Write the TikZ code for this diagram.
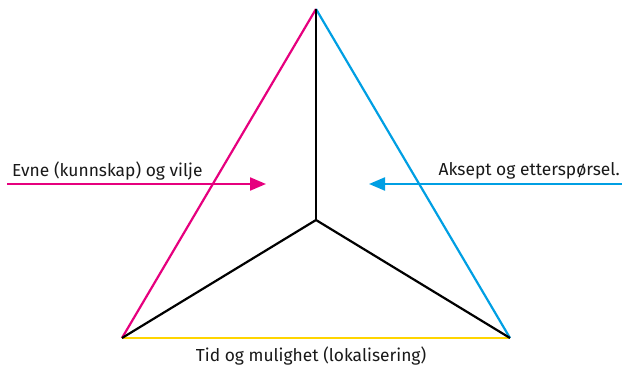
\documentclass[tikz,border=0pt]{standalone}
\usepackage{fontspec}
\setmainfont{Fira Sans}
\usetikzlibrary{arrows.meta}
\definecolor{mpink}{HTML}{E6007E}
\definecolor{mblue}{HTML}{009FE3}
\definecolor{myellow}{HTML}{FFD500}
\begin{document}
\begin{tikzpicture}[x=1pt,y=-1pt,
  edge/.style={line width=2.2pt},
  arr/.style={line width=2.2pt,-{Triangle[length=16pt,width=13pt]}},
  lbl/.style={inner sep=0pt,font=\fontsize{17.4}{20}\selectfont,text=black!90}]
\useasboundingbox (0,0) rectangle (622,368);
\coordinate (T) at (316,9);
\coordinate (C) at (316,220);
\coordinate (L) at (122,338);
\coordinate (R) at (510,338);
\coordinate (pa) at (7,184);
\coordinate (pb) at (266,184);
\coordinate (ba) at (622,184);
\coordinate (bb) at (369,184);
\draw[edge,myellow] (L) -- (R);
\draw[edge,mpink] (T) -- (L);
\draw[edge,mblue] (T) -- (R);
\draw[edge,black] (C) -- (T);
\draw[edge,black] (C) -- (L);
\draw[edge,black] (C) -- (R);
\draw[arr,mpink] (pa) -- (pb);
\draw[arr,mblue] (ba) -- (bb);
\node[lbl,anchor=west] (t1) at (12,171) {Evne (kunnskap) og vilje};
\node[lbl,anchor=east] (t2) at (620,171) {Aksept og etterspørsel.};
\node[lbl] (t3) at (311,356) {Tid og mulighet (lokalisering)};
\end{tikzpicture}
\end{document}
